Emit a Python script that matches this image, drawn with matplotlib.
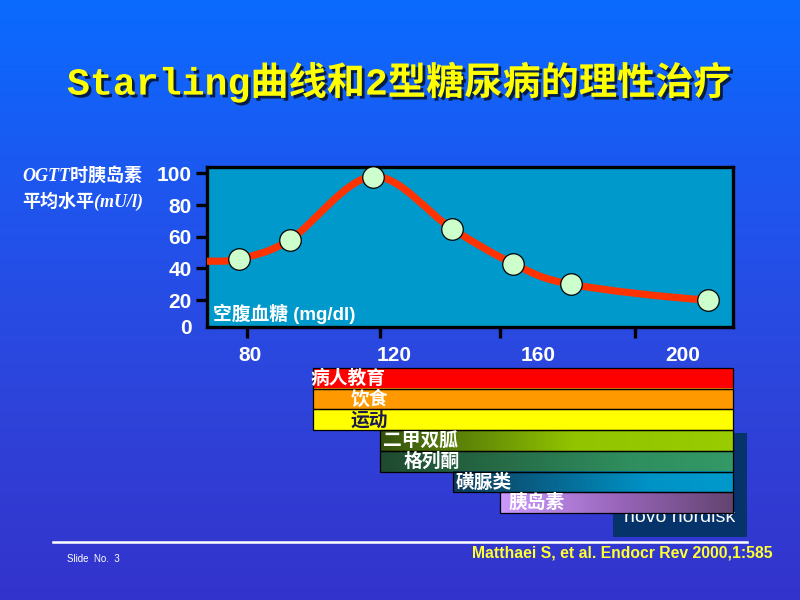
import numpy as np
import matplotlib
matplotlib.use("Agg")
import matplotlib.pyplot as plt
from matplotlib.path import Path
from matplotlib.patches import PathPatch, Rectangle
from matplotlib.colors import LinearSegmentedColormap
import matplotlib.patheffects as pe
from matplotlib import font_manager

# ---------------- data ----------------
title = "Starling曲线和2型糖尿病的理性治疗"
ylabel_lines = ["OGTT时胰岛素", "平均水平(mU/l)"]
xlabel = "空腹血糖 (mg/dl)"

glucose = [77, 91, 114, 136, 153, 169, 207]          # fasting glucose (mg/dl)
insulin = [46, 58, 98, 65, 43, 30, 20]               # mean OGTT insulin (mU/l)
curve_start = (68, 44.5)                             # where the smooth curve enters the plot

x_tick_labels = [80, 120, 160, 200]
x_tick_marks = [79.2, 116.1, 149.4, 186.7]
y_tick_labels = [20, 40, 60, 80, 100]

treatments = ["病人教育", "饮食", "运动", "二甲双胍", "格列酮", "磺脲类", "胰岛素"]
treatment_start = [97.4, 97.4, 97.4, 116.1, 116.1, 136.3, 149.4]
treatment_end = [214, 214, 214, 214, 214, 214, 214]

citation = "Matthaei S, et al. Endocr Rev 2000,1:585"
slide_no = "Slide  No.  3"
logo = "novo nordisk"

# ---------------- styles ----------------
bar_stops = [
    [(0, "#FF0000"), (1, "#FF0000")],
    [(0, "#FF9900"), (1, "#FF9900")],
    [(0, "#FFFF00"), (1, "#FFFF00")],
    [(0, "#34520E"), (0.55, "#93C400"), (1, "#99CC00")],
    [(0, "#1E4A30"), (0.7, "#2F8E5E"), (1, "#339966")],
    [(0, "#0E3A58"), (0.7, "#0093C6"), (1, "#0099CC")],
    [(0, "#CC99FF"), (0.5, "#9966BB"), (1, "#634470")],
]
label_colors = ["white", "white", "#1A1A50", "white", "white", "white", "white"]
label_offsets_px = [-2, 38, 38, 3, 23, 3, 8]

W, H = 800, 600
fig = plt.figure(figsize=(8, 6), dpi=100)

def fx(px):
    return px / W

def fy(py):
    return 1 - py / H

# background gradient
bg = fig.add_axes([0, 0, 1, 1], zorder=-10)
bg.set_axis_off()
bg_cmap = LinearSegmentedColormap.from_list("bg", ["#0A6BFF", "#1F55EE", "#2E44DA", "#3333CC"])
bg.imshow(np.linspace(0, 1, 256).reshape(-1, 1), aspect="auto", cmap=bg_cmap,
          extent=[0, 1, 0, 1], origin="upper")
bg.set_xlim(0, 1)
bg.set_ylim(0, 1)

names = {f.name for f in font_manager.fontManager.ttflist}
narrow = "Liberation Sans Narrow" if "Liberation Sans Narrow" in names else "Liberation Sans"

CJK = "Noto Sans CJK SC"

# title
fig.text(0.5, fy(82), title, ha="center", va="center", color="#FFFF00",
         fontsize=27.5, family=["Liberation Mono", CJK], weight="bold",
         path_effects=[pe.withSimplePatchShadow(offset=(2, -2), shadow_rgbFace="black", alpha=0.7)])

# main axes
ax = fig.add_axes([fx(207), fy(327), fx(733) - fx(207), fy(167) - fy(327)], zorder=1)
ax.set_facecolor("#0099CC")
ax.set_xlim(68, 214)
ax.set_ylim(3, 104)
for s in ax.spines.values():
    s.set_linewidth(2.4)
    s.set_color("black")

# smooth curve (Catmull-Rom -> cubic Bezier), flat approach to the last point
px = np.array([curve_start[0]] + glucose, dtype=float)
py = np.array([curve_start[1]] + insulin, dtype=float)
P = np.column_stack([px, py])
end_phantom = np.array([P[-1][0] + 30.0, P[-1][1]])
Pext = np.vstack([P[0], P, end_phantom])
verts = [tuple(P[0])]
codes = [Path.MOVETO]
for i in range(1, len(Pext) - 2):
    p0, p1, p2, p3 = Pext[i - 1], Pext[i], Pext[i + 1], Pext[i + 2]
    b1 = p1 + (p2 - p0) / 6.0
    b2 = p2 - (p3 - p1) / 6.0
    verts += [tuple(b1), tuple(b2), tuple(p2)]
    codes += [Path.CURVE4] * 3
ax.add_patch(PathPatch(Path(verts, codes), facecolor="none", edgecolor="#FF3300",
                       lw=5.2, capstyle="butt", zorder=3))
ax.plot(glucose, insulin, "o", ms=15.5, mfc="#CCFFCC", mec="black", mew=0.9, zorder=4,
        clip_on=False)

# ticks
ax.set_yticks(y_tick_labels)
ax.set_yticklabels([str(v) for v in y_tick_labels])
ax.set_xticks(x_tick_labels)
ax.set_xticklabels([str(v) for v in x_tick_labels])
ax.set_xticks(x_tick_marks, minor=True)
ax.tick_params(axis="y", direction="out", length=8, width=2.4, color="black",
               labelcolor="white", labelsize=15, pad=3)
ax.tick_params(axis="x", which="major", length=0, labelcolor="white", labelsize=15, pad=14)
ax.tick_params(axis="x", which="minor", direction="out", length=8, width=2.4, color="black")
for lab in ax.get_xticklabels() + ax.get_yticklabels():
    lab.set_fontweight("bold")
    lab.set_family("Liberation Sans")
ax.text(-0.029, -0.008, "0", transform=ax.transAxes, ha="right", va="center",
        color="white", fontsize=15, weight="bold", family="Liberation Sans")

ax.text(0.012, 0.085, xlabel, transform=ax.transAxes, ha="left", va="center",
        color="white", fontsize=13.5, weight="bold", family=["Liberation Sans", CJK])

# y label
fig.text(fx(22), fy(176), ylabel_lines[0], ha="left", va="center", color="white",
         fontsize=13, style="italic", weight="bold", family=["Liberation Serif", CJK])
fig.text(fx(22), fy(201), ylabel_lines[1], ha="left", va="center", color="white",
         fontsize=13, style="italic", weight="bold", family=["Liberation Serif", CJK])

# novo nordisk box (behind bars)
fig.patches.append(Rectangle((fx(613), fy(537)), fx(747) - fx(613), fy(433) - fy(537),
                             transform=fig.transFigure, facecolor="#06336A",
                             edgecolor="none", zorder=-5))
fig.text(fx(680), fy(517), logo, ha="center", va="center", color="white",
         fontsize=14, family="Liberation Sans", zorder=-4)

# treatment bars
bx = fig.add_axes([fx(207), fy(513), fx(733) - fx(207), fy(368) - fy(513)], zorder=2)
bx.set_xlim(68, 214)
n = len(treatments)
bx.set_ylim(n, 0)
bx.set_axis_off()
bx.patch.set_alpha(0)
for i, (name, x0, x1) in enumerate(zip(treatments, treatment_start, treatment_end)):
    cmap = LinearSegmentedColormap.from_list(f"g{i}", bar_stops[i])
    grad = np.linspace(0, 1, 256).reshape(1, -1)
    bx.imshow(grad, cmap=cmap, aspect="auto", extent=[x0, x1, i + 1, i],
              interpolation="bilinear", zorder=1)
    bx.add_patch(Rectangle((x0, i), x1 - x0, 1, facecolor="none", edgecolor="black",
                           lw=0.9, zorder=2, clip_on=False))
    bx.annotate(name, (x0, i + 0.5), xytext=(label_offsets_px[i] * 0.72, 0),
                textcoords="offset points", ha="left", va="center",
                color=label_colors[i], fontsize=13.5, weight="bold", family=CJK,
                zorder=3, annotation_clip=False)
bx.set_xlim(68, 214)
bx.set_ylim(n, 0)

# footer
fig.add_artist(plt.Line2D([fx(53), fx(747)], [fy(542), fy(542)], color="white", lw=1.8,
                          transform=fig.transFigure))
fig.text(fx(67), fy(559), slide_no, ha="left", va="center", color="white", fontsize=7,
         family=narrow)
fig.text(fx(773), fy(553), citation, ha="right", va="center", color="#FFFF33",
         fontsize=11.3, weight="bold", family=narrow)

fig.savefig("out.png", dpi=100)
